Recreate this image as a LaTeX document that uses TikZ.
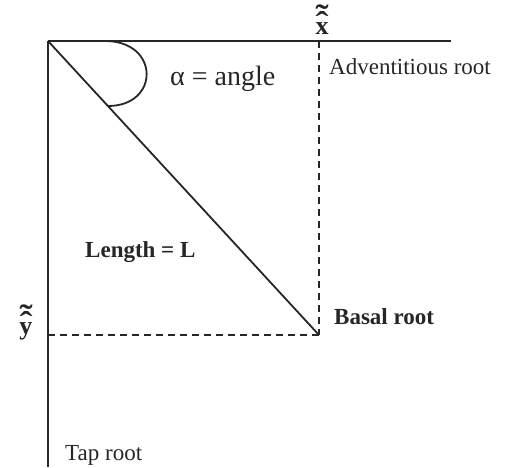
\documentclass[tikz,border=0pt]{standalone}
\usepackage{fontspec}
\setmainfont{Liberation Serif}
\usepackage{graphicx}
\usetikzlibrary{positioning, calc}

% letter with a hat and a wave on top of it
\newcommand{\hatwave}[1]{\ooalign{#1\cr
  \hidewidth\raisebox{0.02em}{\scalebox{1.5}[1.2]{\char"02C6}}\hidewidth\cr
  \hidewidth\raisebox{0.30em}{\scalebox{1.5}[1.2]{\char"02DC}}\hidewidth\cr}}

\begin{document}
\begin{tikzpicture}[
  x=1pt, y=-1pt,
  axis/.style={
    draw=black!85,
    line width=2pt},
  rootline/.style={
    draw=black!85,
    line width=1.8pt},
  guide/.style={
    draw=black!85,
    dashed,
    dash pattern=on 7pt off 5pt,
    line width=1.8pt},
  lbl/.style={
    inner sep=0pt,
    anchor=base west,
    text=black!85,
    font=\fontsize{23}{27}\selectfont},
  boldlbl/.style={
    lbl,
    font=\fontsize{23}{27}\selectfont\bfseries},
  axislbl/.style={
    lbl,
    anchor=base,
    font=\fontsize{26}{30}\selectfont\bfseries},
]

\useasboundingbox (0,0) rectangle (505,467);

\coordinate (origin) at (48,41);
\coordinate (xend)   at (451,41);
\coordinate (basal)  at (319,335);
\coordinate (ybot)   at (48,467);
\coordinate (xfoot)  at (319,41);
\coordinate (yfoot)  at (48,335);

\draw[axis] (origin) -- (xend);
\draw[axis] (origin) -- (ybot);
\draw[rootline] (origin) -- (basal);

\draw[guide] (xfoot) -- (basal);
\draw[guide] (yfoot) -- (basal);

% angle mark
\coordinate (arcA) at (105,41);
\coordinate (arcB) at (108,106);
\draw[rootline] (arcA) .. controls (160,41) and (160,106) .. (arcB);

\node[axislbl] (xlbl) at (322,34) {\hatwave{x}};
\node[axislbl] (ylbl) at (26,334) {\hatwave{y}};

\node[lbl, font=\fontsize{28}{32}\selectfont] (alpha) at (170,85)
  {α = angle};
\node[lbl] (advent) at (329,74) {Adventitious root};
\node[boldlbl] (length) at (85,257) {Length = L};
\node[boldlbl] (basallbl) at (334,324) {Basal root};
\node[lbl] (tap) at (65,460) {Tap root};

\end{tikzpicture}
\end{document}
